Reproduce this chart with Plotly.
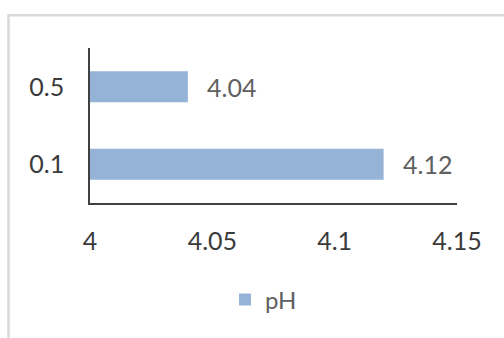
import plotly.graph_objects as go

# Concentration categories (bottom to top) and measured pH
categories = ["0.1", "0.5"]
ph_values = [4.12, 4.04]
x_ticks = [4, 4.05, 4.1, 4.15]
x_tick_text = ["4", "4.05", "4.1", "4.15"]

W, H = 504, 338
L, R, T, B = 90, 47, 48, 135
pw, ph = W - L - R, H - T - B

FONT = "Lato, 'Open Sans', sans-serif"
bar_color = "#95B3D7"
tick_color = "#3A3A3A"
label_color = "#606060"

fig = go.Figure()
fig.add_trace(go.Bar(
    y=categories, x=ph_values, orientation="h", name="pH",
    marker=dict(color=bar_color, line=dict(width=0)),
))

# value labels to the right of each bar (category axis -> use category index)
for i, v in enumerate(ph_values):
    fig.add_annotation(
        x=v, y=i, xref="x", yref="y", text=f"{v:.2f}", showarrow=False,
        xanchor="left", yanchor="middle", xshift=17,
        font=dict(family=FONT, size=25, color=label_color),
    )

# light chart-area frame
fig.add_shape(
    type="rect", xref="paper", yref="paper",
    x0=(8.5 - L) / pw, x1=(W + 20 - L) / pw,
    y0=-(H + 20 - T - ph) / ph, y1=1 + (T - 15.3) / ph,
    line=dict(color="#D9D9D9", width=2.5), fillcolor="rgba(0,0,0,0)", layer="below",
)

fig.update_layout(
    width=W, height=H,
    margin=dict(l=L, r=R, t=T, b=B, pad=0),
    paper_bgcolor="white", plot_bgcolor="white",
    bargap=0.6,
    font=dict(family=FONT, size=25, color=tick_color),
    showlegend=True,
    legend=dict(
        orientation="h", x=(225 - L) / pw, xanchor="left",
        y=-(300 - T - ph) / ph, yanchor="middle",
        font=dict(family=FONT, size=24, color=label_color),
        bgcolor="rgba(0,0,0,0)",
    ),
    xaxis=dict(
        range=[4, 4.15], tickvals=x_ticks, ticktext=x_tick_text,
        showgrid=False, zeroline=False, showline=True,
        linecolor="#404040", linewidth=1.5, ticks="",
        ticklabelstandoff=15,
        tickfont=dict(family=FONT, size=25, color=tick_color),
    ),
    yaxis=dict(
        type="category", categoryorder="array", categoryarray=categories,
        showgrid=False, zeroline=False, showline=True,
        linecolor="#404040", linewidth=1.5, ticks="",
        ticklabelstandoff=19,
        tickfont=dict(family=FONT, size=25, color=tick_color),
    ),
)

fig.write_html("out.html")
